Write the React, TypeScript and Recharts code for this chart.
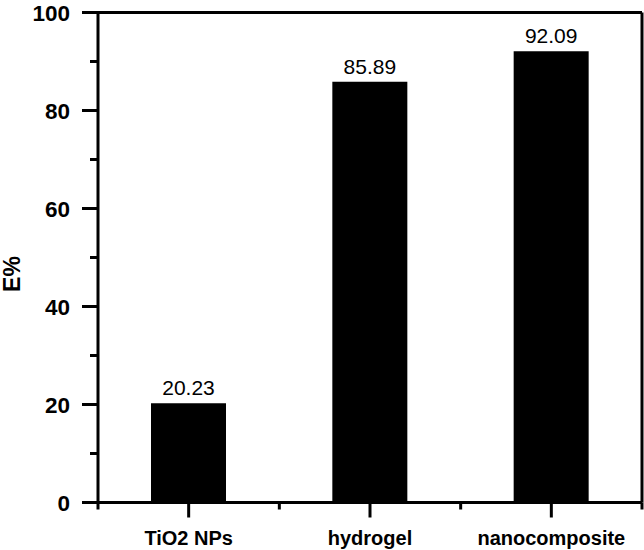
import { Bar, BarChart, LabelList, XAxis, YAxis } from "recharts";

const categories = ["TiO2 NPs", "hydrogel", "nanocomposite"];
const efficiency = [20.23, 85.89, 92.09];
const yTicks = [0, 10, 20, 30, 40, 50, 60, 70, 80, 90, 100];

const data = categories.map((name, i) => ({ name, value: efficiency[i] }));

const W = 644;
const H = 550;
const margin = { top: 0, right: 0, left: 0, bottom: 0 };
const yAxisWidth = 98;
const xAxisHeight = 47.5;
const topAxisHeight = 12.5;
const rightAxisWidth = 2;
const band = (W - yAxisWidth - rightAxisWidth) / categories.length;

const font = "'Liberation Sans', Arial, sans-serif";
const ink = "#000";

const YTick = (props: any) => {
  const { x, y, payload } = props;
  const major = payload.value % 20 === 0;
  return (
    <g>
      <line x1={x - (major ? 16 : 8)} x2={x} y1={y} y2={y} stroke={ink} strokeWidth={3} />
      {major && (
        <text
          x={x - 28}
          y={y}
          dy="0.36em"
          textAnchor="end"
          fontFamily={font}
          fontWeight="bold"
          fontSize={22.5}
          fill={ink}
        >
          {payload.value}
        </text>
      )}
    </g>
  );
};

const XTick = (props: any) => {
  const { x, y, payload, index } = props;
  return (
    <g>
      <line x1={x} x2={x} y1={y} y2={y + 15} stroke={ink} strokeWidth={3} />
      {index === 0 && (
        <line x1={x - band / 2} x2={x - band / 2} y1={y} y2={y + 7} stroke={ink} strokeWidth={3} />
      )}
      <line x1={x + band / 2} x2={x + band / 2} y1={y} y2={y + 7} stroke={ink} strokeWidth={3} />
      <text
        x={x}
        y={y + 42.5}
        textAnchor="middle"
        fontFamily={font}
        fontWeight="bold"
        fontSize={20}
        fill={ink}
      >
        {payload.value}
      </text>
    </g>
  );
};

const ValueLabel = (props: any) => {
  const { x, y, width, value } = props;
  return (
    <text
      x={x + width / 2}
      y={y - 8}
      textAnchor="middle"
      fontFamily={font}
      fontSize={21}
      fill={ink}
    >
      {value.toFixed(2)}
    </text>
  );
};

export default function App() {
  return (
    <div style={{ position: "absolute", left: 0, top: 0, width: W, height: H, background: "#fff" }}>
      <BarChart width={W} height={H} data={data} margin={margin}>
        <XAxis
          dataKey="name"
          height={xAxisHeight}
          axisLine={{ stroke: ink, strokeWidth: 3 }}
          tickLine={false}
          tickSize={0}
          tickMargin={0}
          tick={<XTick />}
          interval={0}
        />
        <XAxis
          xAxisId="top"
          dataKey="name"
          orientation="top"
          height={topAxisHeight}
          axisLine={{ stroke: ink, strokeWidth: 3 }}
          tickLine={false}
          tick={false}
        />
        <YAxis
          width={yAxisWidth}
          domain={[0, 100]}
          ticks={yTicks}
          interval={0}
          axisLine={{ stroke: ink, strokeWidth: 3 }}
          tickLine={false}
          tickSize={0}
          tickMargin={0}
          tick={<YTick />}
          label={{
            content: () => (
              <text
                x={11.5}
                y={274}
                transform="rotate(-90, 11.5, 274)"
                textAnchor="middle"
                dominantBaseline="central"
                fontFamily={font}
                fontWeight="bold"
                fontSize={23}
                fill={ink}
              >
                E%
              </text>
            ),
          }}
        />
        <YAxis
          yAxisId="right"
          orientation="right"
          width={rightAxisWidth}
          domain={[0, 100]}
          axisLine={{ stroke: ink, strokeWidth: 3 }}
          tickLine={false}
          tick={false}
        />
        <Bar dataKey="value" fill={ink} barSize={75} isAnimationActive={false}>
          <LabelList dataKey="value" content={<ValueLabel />} />
        </Bar>
      </BarChart>
    </div>
  );
}
